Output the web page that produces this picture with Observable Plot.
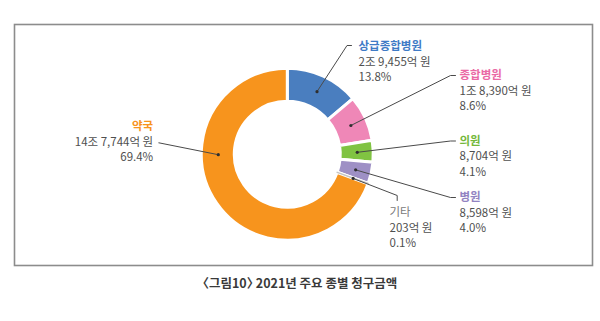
<!DOCTYPE html>
<html>
<head>
<meta charset="utf-8">
<script src="https://cdn.jsdelivr.net/npm/d3@7"></script>
<script src="https://cdn.jsdelivr.net/npm/@observablehq/plot@0.6"></script>
<style>
  html, body { margin: 0; padding: 0; background: #fff; }
  #chart svg { display: block; }
  #caption {
    width: 600px; text-align: center; margin-top: 5px;
    font-family: "Noto Sans CJK KR", sans-serif; font-size: 12.5px; font-weight: 700;
    line-height: 16px; color: #3a3a3a; font-feature-settings: "halt";
  }
</style>
</head>
<body>
<div id="chart"></div>
<div id="caption">〈그림10〉 2021년 주요 종별 청구금액</div>
<script>
// ---- data ----
const categories = ["상급종합병원", "종합병원", "의원", "병원", "기타", "약국"];
const amounts = ["2조 9,455억 원", "1조 8,390억 원", "8,704억 원", "8,598억 원", "203억 원", "14조 7,744억 원"];
const shares = [13.8, 8.6, 4.1, 4.0, 0.1, 69.4];
const shareLabels = ["13.8%", "8.6%", "4.1%", "4.0%", "0.1%", "69.4%"];

// ---- styles ----
const sliceColors = ["#4a7ebf", "#ef87b7", "#80c342", "#9e90c5", "#c4c4c4", "#f7941d"];
const titleColors = ["#3f7bc6", "#ea6aa5", "#74b83a", "#9283c2", "#7a7a7a", "#f7941d"];
const titleWeights = ["bold", "bold", "bold", "bold", "normal", "bold"];

// ---- layout (units relative to donut centre, y up) ----
const outerR = 86, innerR = 53, dotR = 69.5;
const dotAngleOverride = [null, null, null, null, null, 270];
const elbows = [[59.2, 109.2], [162.7, 79.2], [162.7, 13.7], [162.7, -42.8], [109.4, -40.8], [-129, 11.9]];
const ends   = [[63.7, 109.2], [167.7, 79.2], [167.7, 13.7], [167.7, -42.8], [109.4, -45.8], [-129, 11.9]];
const textX  = [70.7, 171.7, 171.7, 171.7, 101.7, -134.6];
const titleY = [108.2, 79.2, 13.7, -42.8, -57.8, 28.2];
const anchors = ["start", "start", "start", "start", "start", "end"];
const lineGap = 15.6;

const pie = d3.pie().sort(null).value(d => d.share).startAngle(0).endAngle(2 * Math.PI);
const rows = categories.map((c, i) => ({
  cat: c, amount: amounts[i], share: shares[i], pct: shareLabels[i], i
}));
const arcs = pie(rows);

const dots = arcs.map((a, i) => {
  const ang = dotAngleOverride[i] != null ? dotAngleOverride[i] * Math.PI / 180 : (a.startAngle + a.endAngle) / 2;
  return { i, x: dotR * Math.sin(ang), y: dotR * Math.cos(ang) };
});
const leader = [];
dots.forEach((d, i) => {
  leader.push({ i, k: 0, x: d.x, y: d.y });
  leader.push({ i, k: 1, x: elbows[i][0], y: elbows[i][1] });
  leader.push({ i, k: 2, x: ends[i][0], y: ends[i][1] });
});
const labels = rows.map((r, i) => ({
  ...r, x: textX[i], ty: titleY[i], y1: titleY[i] - lineGap, y2: titleY[i] - 2 * lineGap, anchor: anchors[i]
}));

function donut(index, scales) {
  const cx = scales.x(0), cy = scales.y(0);
  const k = Math.abs(scales.x(1) - scales.x(0));
  const g = d3.create("svg:g").attr("transform", `translate(${cx},${cy})`);
  const arc = d3.arc().innerRadius(innerR * k).outerRadius(outerR * k);
  g.selectAll("path.s").data(arcs).join("path")
    .attr("d", arc)
    .attr("fill", d => sliceColors[d.data.i])
    .attr("stroke", "#fff").attr("stroke-width", 3).attr("stroke-linejoin", "round");
  const tiny = arcs.filter(d => d.data.share < 1);
  g.selectAll("path.t").data(tiny).join("path")
    .attr("d", arc)
    .attr("fill", d => sliceColors[d.data.i])
    .attr("stroke", d => sliceColors[d.data.i]).attr("stroke-width", 1.2);
  return g.node();
}

const font = "'Noto Sans CJK KR', sans-serif";
const marks = [
  Plot.frame({ stroke: "#8c8c8c", strokeWidth: 1.6 }),
  donut,
  Plot.line(leader, { x: "x", y: "y", z: "i", stroke: "#4a4a4a", strokeWidth: 1, curve: "linear" }),
  Plot.dot(dots, { x: "x", y: "y", r: 1.6, fill: "#2f2f2f", stroke: "none" })
];
labels.forEach((d, i) => {
  const L = [d];
  marks.push(
    Plot.text(L, { x: "x", y: "ty", text: "cat", textAnchor: d.anchor, fill: titleColors[i], fontWeight: titleWeights[i], fontSize: 11.5, fontFamily: font }),
    Plot.text(L, { x: "x", y: "y1", text: "amount", textAnchor: d.anchor, fill: "#4f4f4f", fontSize: 11.5, fontFamily: font }),
    Plot.text(L, { x: "x", y: "y2", text: "pct", textAnchor: d.anchor, fill: "#4f4f4f", fontSize: 11.5, fontFamily: font })
  );
});

const chart = Plot.plot({
  width: 600,
  height: 270,
  marginLeft: 14, marginRight: 8, marginTop: 24, marginBottom: 5,
  x: { domain: [-273.3, 304.7], axis: null },
  y: { domain: [-110.8, 130.2], axis: null },
  style: { background: "#fff", fontFamily: font, overflow: "visible" },
  marks
});
document.getElementById("chart").appendChild(chart);
</script>
</body>
</html>
